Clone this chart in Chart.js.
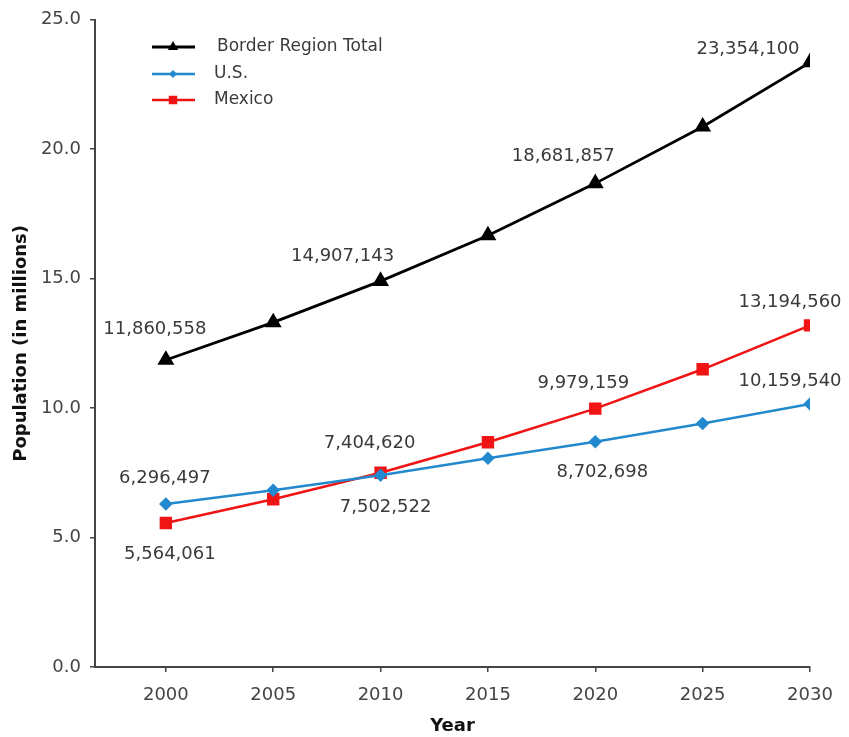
<!DOCTYPE html>
<html>
<head>
<meta charset="utf-8">
<script src="https://cdn.jsdelivr.net/npm/chart.js@4/dist/chart.umd.min.js"></script>
<style>
  html, body { margin: 0; padding: 0; background: #fff; }
  #wrap { width: 849px; height: 737px; }
</style>
</head>
<body>
<div id="wrap"><canvas id="popChart" width="849" height="737"></canvas></div>
<script>
// 데이터 (단위: 백만 명)
const years = [2000, 2005, 2010, 2015, 2020, 2025, 2030];
const borderTotal = [11.860558, 13.31, 14.907143, 16.67, 18.681857, 20.87, 23.3541];
const usPop = [6.296497, 6.83, 7.40462, 8.06, 8.702698, 9.41, 10.15954];
const mexicoPop = [5.564061, 6.48, 7.502522, 8.68, 9.979159, 11.50, 13.19456];
const yTicks = [0, 5, 10, 15, 20, 25];

// 라벨이 붙는 지점과 위치 (점 기준 dx, dy)
const labelIdx = [0, 2, 4, 6];
const borderLabelPos = [[-11, -31], [-38, -25], [-32, -27], [-62, -13]];
const usLabelPos = [[-1, -26], [-11, -32], [7, 31], [-20, -23]];
const mexicoLabelPos = [[4, 31], [5, 35], [-12, -25], [-20, -23]];

const FONT = 'DejaVu Sans, Verdana, sans-serif';

function toPoints(arr) {
	return years.map(function (yr, i) { return { x: yr, y: arr[i] }; });
}

// 값 라벨 그리기
const valueLabels = {
	id: 'valueLabels',
	afterDatasetsDraw(chart) {
		const ctx = chart.ctx;
		ctx.save();
		ctx.font = '18px ' + FONT;
		ctx.fillStyle = '#3a3a3a';
		ctx.textAlign = 'center';
		ctx.textBaseline = 'middle';
		chart.data.datasets.forEach(function (ds, di) {
			const meta = chart.getDatasetMeta(di);
			labelIdx.forEach(function (idx, k) {
				const pt = meta.data[idx];
				const off = ds.labelPos[k];
				const txt = Math.round(ds.data[idx].y * 1e6).toLocaleString('en-US');
				ctx.fillText(txt, pt.x + off[0], pt.y + off[1]);
			});
		});
		ctx.restore();
	}
};

// 차트 안쪽 범례
function drawMarker(ctx, style, x, y, r) {
	ctx.beginPath();
	if (style === 'triangle') {
		ctx.moveTo(x, y - r);
		ctx.lineTo(x + r * 0.866, y + r * 0.5);
		ctx.lineTo(x - r * 0.866, y + r * 0.5);
	} else if (style === 'rectRot') {
		ctx.moveTo(x, y - r);
		ctx.lineTo(x + r, y);
		ctx.lineTo(x, y + r);
		ctx.lineTo(x - r, y);
	} else {
		const s = r * Math.SQRT1_2;
		ctx.rect(x - s, y - s, 2 * s, 2 * s);
	}
	ctx.closePath();
	ctx.fill();
}

const insideLegend = {
	id: 'insideLegend',
	afterDraw(chart) {
		const ctx = chart.ctx;
		const rows = [47, 74, 100];
		ctx.save();
		chart.data.datasets.forEach(function (ds, i) {
			const y = rows[i];
			ctx.strokeStyle = ds.borderColor;
			ctx.lineWidth = ds.borderWidth;
			ctx.beginPath();
			ctx.moveTo(152, y);
			ctx.lineTo(195, y);
			ctx.stroke();
			ctx.fillStyle = ds.pointBackgroundColor;
			drawMarker(ctx, ds.pointStyle, 173, y, ds.pointRadius - 1);
			ctx.font = '17px ' + FONT;
			ctx.fillStyle = '#3a3a3a';
			ctx.textAlign = 'left';
			ctx.textBaseline = 'middle';
			ctx.fillText(ds.label, i === 0 ? 217 : 214, y);
		});
		ctx.restore();
	}
};

const ctx = document.getElementById('popChart').getContext('2d');
const chart = new Chart(ctx, {
	type: 'line',
	data: {
		datasets: [
			{
				label: 'Border Region Total',
				data: toPoints(borderTotal),
				borderColor: '#000000',
				backgroundColor: '#000000',
				pointBackgroundColor: '#000000',
				pointBorderColor: '#000000',
				pointStyle: 'triangle',
				pointRadius: 7,
				borderWidth: 2.8,
				labelPos: borderLabelPos
			},
			{
				label: 'U.S.',
				data: toPoints(usPop),
				borderColor: '#2389cf',
				backgroundColor: '#2389cf',
				pointBackgroundColor: '#2389cf',
				pointBorderColor: '#2389cf',
				pointStyle: 'rectRot',
				pointRadius: 5,
				borderWidth: 2.5,
				labelPos: usLabelPos
			},
			{
				label: 'Mexico',
				data: toPoints(mexicoPop),
				borderColor: '#f01414',
				backgroundColor: '#f01414',
				pointBackgroundColor: '#f01414',
				pointBorderColor: '#f01414',
				pointStyle: 'rect',
				pointRadius: 7,
				borderWidth: 2.5,
				labelPos: mexicoLabelPos
			}
		]
	},
	options: {
		responsive: false,
		animation: false,
		layout: { padding: { left: 11, top: 19, right: 39, bottom: 0 } },
		plugins: {
			legend: { display: false },
			tooltip: { enabled: false }
		},
		scales: {
			x: {
				type: 'linear',
				min: 1996.7,
				max: 2030,
				afterBuildTicks: function (scale) {
					scale.ticks = years.map(function (v) { return { value: v }; });
				},
				afterFit: function (scale) { scale.height = 70; },
				grid: { display: true, drawOnChartArea: false, drawTicks: true, tickLength: 5, color: '#444', lineWidth: 1.5 },
				border: { display: true, color: '#444', width: 2 },
				ticks: {
					color: '#444',
					font: { family: FONT, size: 18 },
					padding: 13,
					maxRotation: 0,
					autoSkip: false,
					callback: function (v) { return String(v); }
				},
				title: {
					display: true,
					text: 'Year',
					color: '#111',
					font: { family: FONT, size: 18, weight: 'bold' },
					padding: { top: 0, bottom: 0 }
				}
			},
			y: {
				min: 0,
				max: 25,
				afterBuildTicks: function (scale) {
					scale.ticks = yTicks.map(function (v) { return { value: v }; });
				},
				afterFit: function (scale) { scale.width = 84; },
				grid: { display: true, drawOnChartArea: false, drawTicks: true, tickLength: 5, color: '#444', lineWidth: 1.5 },
				border: { display: true, color: '#444', width: 2 },
				ticks: {
					color: '#444',
					font: { family: FONT, size: 18 },
					padding: 9,
					callback: function (v) { return Number(v).toFixed(1); }
				},
				title: {
					display: true,
					text: 'Population (in millions)',
					color: '#111',
					font: { family: FONT, size: 18, weight: 'bold' },
					padding: 0
				}
			}
		}
	},
	plugins: [valueLabels, insideLegend]
});
</script>
</body>
</html>
